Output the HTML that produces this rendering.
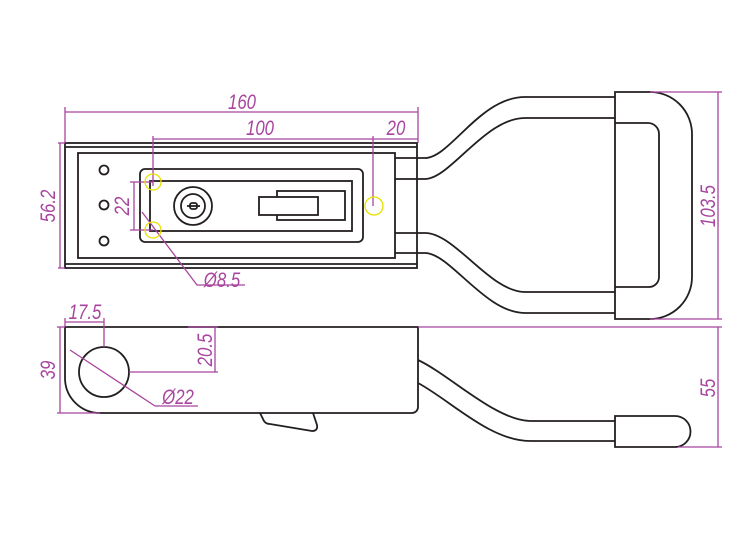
<!DOCTYPE html>
<html><head><style>body{margin:0;background:#fff}svg{display:block}</style></head><body>
<svg width="750" height="534" viewBox="0 0 750 534" xmlns="http://www.w3.org/2000/svg">
<g fill="none" stroke="#231f20" stroke-width="1.8">
<rect x="65" y="143" width="352" height="125"/>
<line x1="65" y1="147" x2="417" y2="147"/>
<line x1="65" y1="264" x2="417" y2="264"/>
<rect x="78" y="153" width="317" height="105"/>
<circle cx="104" cy="170" r="4.5"/><circle cx="104" cy="205" r="4.5"/><circle cx="104" cy="241" r="4.5"/>
<rect x="140" y="169" width="223" height="73" rx="5"/>
<rect x="150" y="181" width="202" height="50"/>
<circle cx="193" cy="206" r="19"/><circle cx="193" cy="206" r="12"/>
<line x1="187" y1="206" x2="200" y2="206"/><rect x="190" y="203" width="7" height="6" rx="2"/>
<rect x="277" y="191" width="68" height="29"/>
<rect x="259" y="197" width="59" height="18" fill="#fff"/>
<path d="M395 158 H425 C450 158 480 97 525 97 H615"/>
<path d="M395 179 H425 C450 179 485 118 525 118 H615"/>
<path d="M395 233 H425 C455 233 490 292 525 292 H615"/>
<path d="M395 253 H425 C450 253 485 313 525 313 H615"/>
<path d="M615 92 H650 A42 42 0 0 1 692 134 V277 A42 42 0 0 1 650 319 H615 Z"/>
<path d="M615 123 H648 A11 11 0 0 1 659 134 V277 A10 10 0 0 1 649 287 H615"/>
<path d="M65 327 H418 V407 A6 6 0 0 1 412 413 H100 A35 35 0 0 1 65 378 Z"/>
<circle cx="104" cy="372" r="25"/>
<path d="M260 413 L264 421 Q266 424 270 424 L312 431 Q318 431 317 425 L313 413"/>
<path d="M418 360 C450 375 495 420 530 421 H615"/>
<path d="M418 383 C450 400 490 441 530 441 H615"/>
<path d="M615 416 H675 A15.5 15.5 0 0 1 675 447 H615 Z"/>
</g>
<g fill="none" stroke="#a8459f" stroke-width="1.3">
<line x1="65" y1="107" x2="65" y2="143"/><line x1="418" y1="107" x2="418" y2="143"/>
<line x1="65" y1="112" x2="418" y2="112"/>
<line x1="153" y1="136" x2="153" y2="186"/><line x1="373" y1="136" x2="373" y2="206"/>
<line x1="153" y1="139" x2="418" y2="139"/>
<line x1="58" y1="143" x2="65" y2="143"/><line x1="58" y1="268" x2="65" y2="268"/>
<line x1="60" y1="143" x2="60" y2="268"/>
<line x1="130" y1="182" x2="153" y2="182"/><line x1="130" y1="230" x2="153" y2="230"/>
<line x1="134" y1="182" x2="134" y2="230"/>
<polyline points="142,212 197,285 245,285"/>
<line x1="650" y1="92" x2="722" y2="92"/><line x1="650" y1="319" x2="722" y2="319"/>
<line x1="718" y1="92" x2="718" y2="319"/>
<line x1="65" y1="318" x2="65" y2="327"/><line x1="104" y1="318" x2="104" y2="347"/>
<line x1="65" y1="322" x2="104" y2="322"/>
<line x1="57" y1="327" x2="65" y2="327"/><line x1="57" y1="413" x2="100" y2="413"/>
<line x1="60" y1="327" x2="60" y2="413"/>
<line x1="129" y1="372" x2="218" y2="372"/><line x1="215" y1="327" x2="215" y2="372"/>
<line x1="188" y1="327" x2="218" y2="327"/>
<polyline points="70,350 155,406 198,406"/>
<line x1="418" y1="327" x2="722" y2="327"/>
<line x1="678" y1="447" x2="722" y2="447"/>
<line x1="718" y1="327" x2="718" y2="447"/>
</g>
<g fill="none" stroke="#e8e000" stroke-width="1.3">
<circle cx="153" cy="182" r="8"/><circle cx="153" cy="230" r="8"/><circle cx="374" cy="206" r="9"/>
</g>
<g fill="#a8459f" font-family="Liberation Sans, sans-serif" font-size="21" font-style="italic" text-anchor="middle">
<text transform="translate(242,109) scale(0.8,1)">160</text>
<text transform="translate(260,135) scale(0.8,1)">100</text>
<text transform="translate(396,135) scale(0.8,1)">20</text>
<text transform="translate(222,287) scale(0.8,1)">Ø8.5</text>
<text transform="translate(178,404) scale(0.8,1)">Ø22</text>
<text transform="translate(85,319) scale(0.8,1)">17.5</text>
<text transform="translate(55,206) rotate(-90) scale(0.8,1)">56.2</text>
<text transform="translate(129,206) rotate(-90) scale(0.8,1)">22</text>
<text transform="translate(715,206) rotate(-90) scale(0.8,1)">103.5</text>
<text transform="translate(55,370) rotate(-90) scale(0.8,1)">39</text>
<text transform="translate(212,350) rotate(-90) scale(0.8,1)">20.5</text>
<text transform="translate(715,388) rotate(-90) scale(0.8,1)">55</text>
</g>
</svg>
</body></html>
